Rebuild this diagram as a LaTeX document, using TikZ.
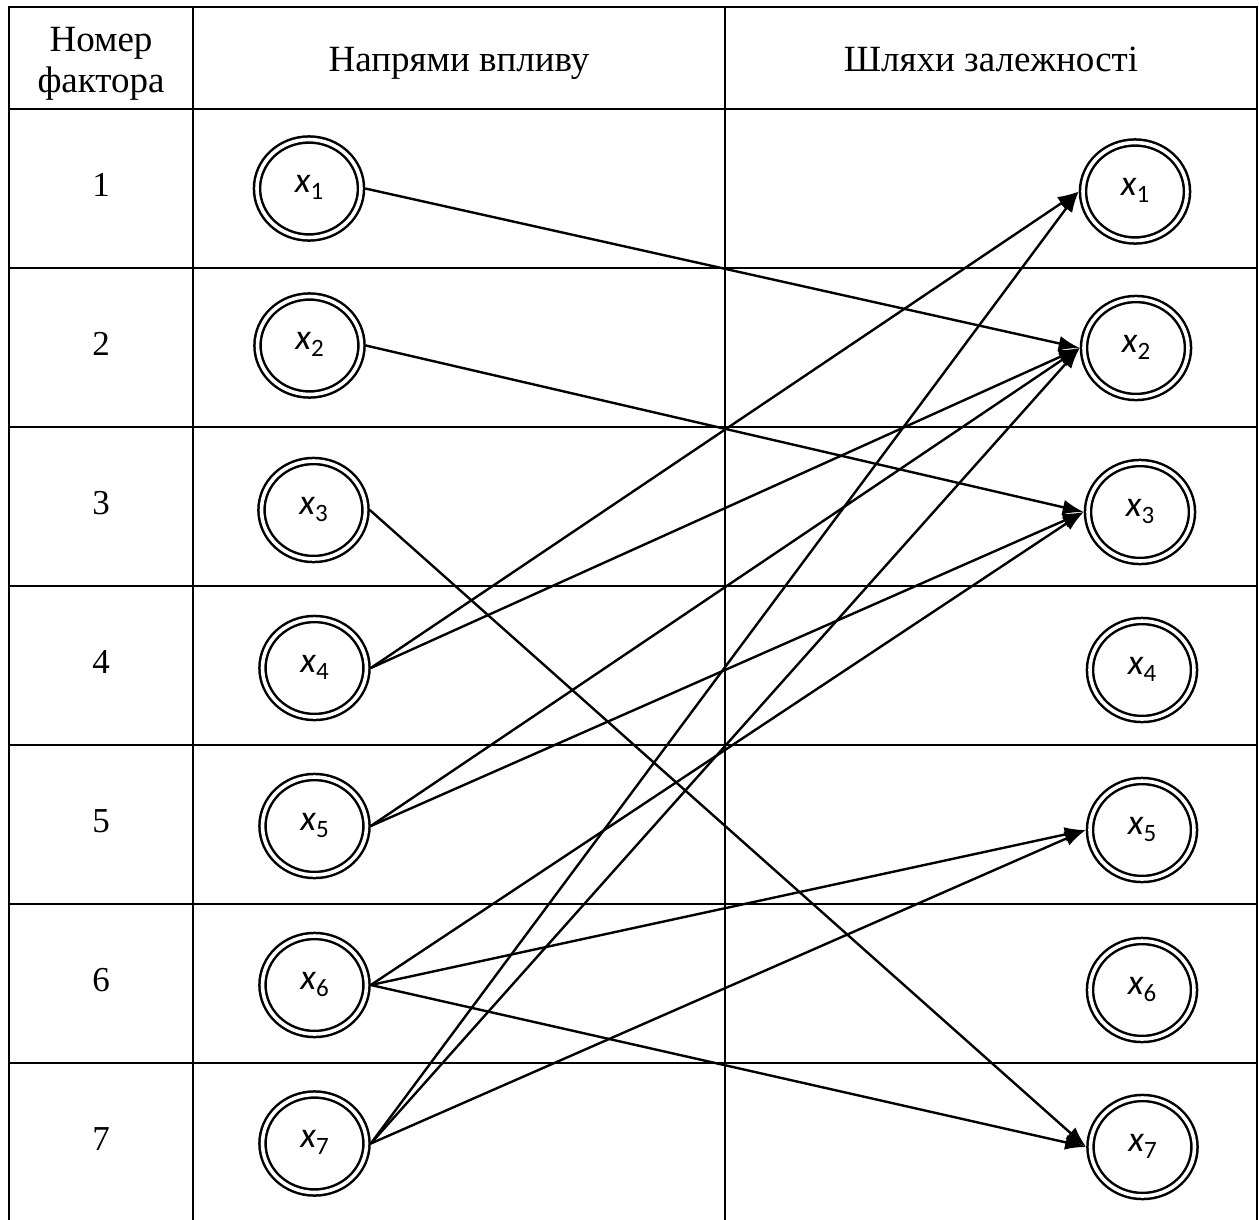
\documentclass[tikz,border=0pt]{standalone}
\usepackage{fontspec}
\setmainfont{Liberation Serif}
\newfontfamily\lblfont{Carlito}
\usetikzlibrary{arrows.meta,shapes.geometric}
\tikzset{
  tline/.style={line width=2.6pt, line cap=rect},
  fnode/.style={ellipse, draw, line width=2.5pt, double, double distance=3.6pt,
    minimum width=104pt, minimum height=98pt, inner sep=0pt, outer sep=4.3pt},
  conn/.style={line width=2.4pt, -{Latex[length=21pt,width=15pt]}},
  headtxt/.style={font=\fontsize{37}{44}\selectfont, anchor=base, inner sep=0pt},
  coltxt/.style={font=\fontsize{37}{41}\selectfont, anchor=base, inner sep=0pt},
  numtxt/.style={font=\fontsize{35}{40}\selectfont, anchor=base, inner sep=0pt}
}
\newcommand\xlab[1]{{\lblfont\fontsize{36}{36}\selectfont\itshape x\/\raisebox{-7pt}{\upshape\fontsize{25}{25}\selectfont #1}\rule[-9pt]{0pt}{1pt}}}
\begin{document}
\begin{tikzpicture}[x=1pt,y=-1pt]
\useasboundingbox (0,0) rectangle (1259,1219);
% table
\draw[tline] (9,7) -- (1257,7);
\foreach \yy in {109,268,427,586,745,904,1063} \draw[tline] (9,\yy) -- (1257,\yy);
\foreach \xx in {9,193,725,1257} \draw[tline] (\xx,7) -- (\xx,1219);
% headers
\node[coltxt] (hA) at (101,51) {Номер};
\node[coltxt] (hB) at (101,92) {фактора};
\node[headtxt] (hC) at (459,71) {Напрями впливу};
\node[headtxt] (hD) at (991,71) {Шляхи залежності};
% row numbers
\foreach \k/\yy in {1/188.5,2/347.5,3/506.5,4/665.5,5/824.5,6/983.5,7/1142.5}
  \node[numtxt] (n\k) at (101,\yy+8) {\k};
% left nodes
\node[fnode] (L1) at (309,188.5) {\xlab{1}};
\node[fnode] (L2) at (309.5,345.5) {\xlab{2}};
\node[fnode] (L3) at (313.5,510) {\xlab{3}};
\node[fnode] (L4) at (314.5,668) {\xlab{4}};
\node[fnode] (L5) at (314.5,826) {\xlab{5}};
\node[fnode] (L6) at (314.5,985) {\xlab{6}};
\node[fnode] (L7) at (314.5,1143.5) {\xlab{7}};
% right nodes
\node[fnode] (R1) at (1135,191.5) {\xlab{1}};
\node[fnode] (R2) at (1136,348) {\xlab{2}};
\node[fnode] (R3) at (1140,512) {\xlab{3}};
\node[fnode] (R4) at (1142,670) {\xlab{4}};
\node[fnode] (R5) at (1142,830) {\xlab{5}};
\node[fnode] (R6) at (1142,990) {\xlab{6}};
\node[fnode] (R7) at (1142.5,1147) {\xlab{7}};
% connectors
\draw[conn] (L1.east) -- (R2.west);
\draw[conn] (L2.east) -- (R3.west);
\draw[conn] (L3.east) -- (R7.west);
\draw[conn] (L4.east) -- (R1.west);
\draw[conn] (L4.east) -- (R2.west);
\draw[conn] (L5.east) -- (R2.west);
\draw[conn] (L5.east) -- (R3.west);
\draw[conn] (L6.east) -- (R3.west);
\draw[conn] (L6.east) -- (R5.west);
\draw[conn] (L6.east) -- (R7.west);
\draw[conn] (L7.east) -- (R1.west);
\draw[conn] (L7.east) -- (R2.west);
\draw[conn] (L7.east) -- (R5.west);
\end{tikzpicture}
\end{document}
